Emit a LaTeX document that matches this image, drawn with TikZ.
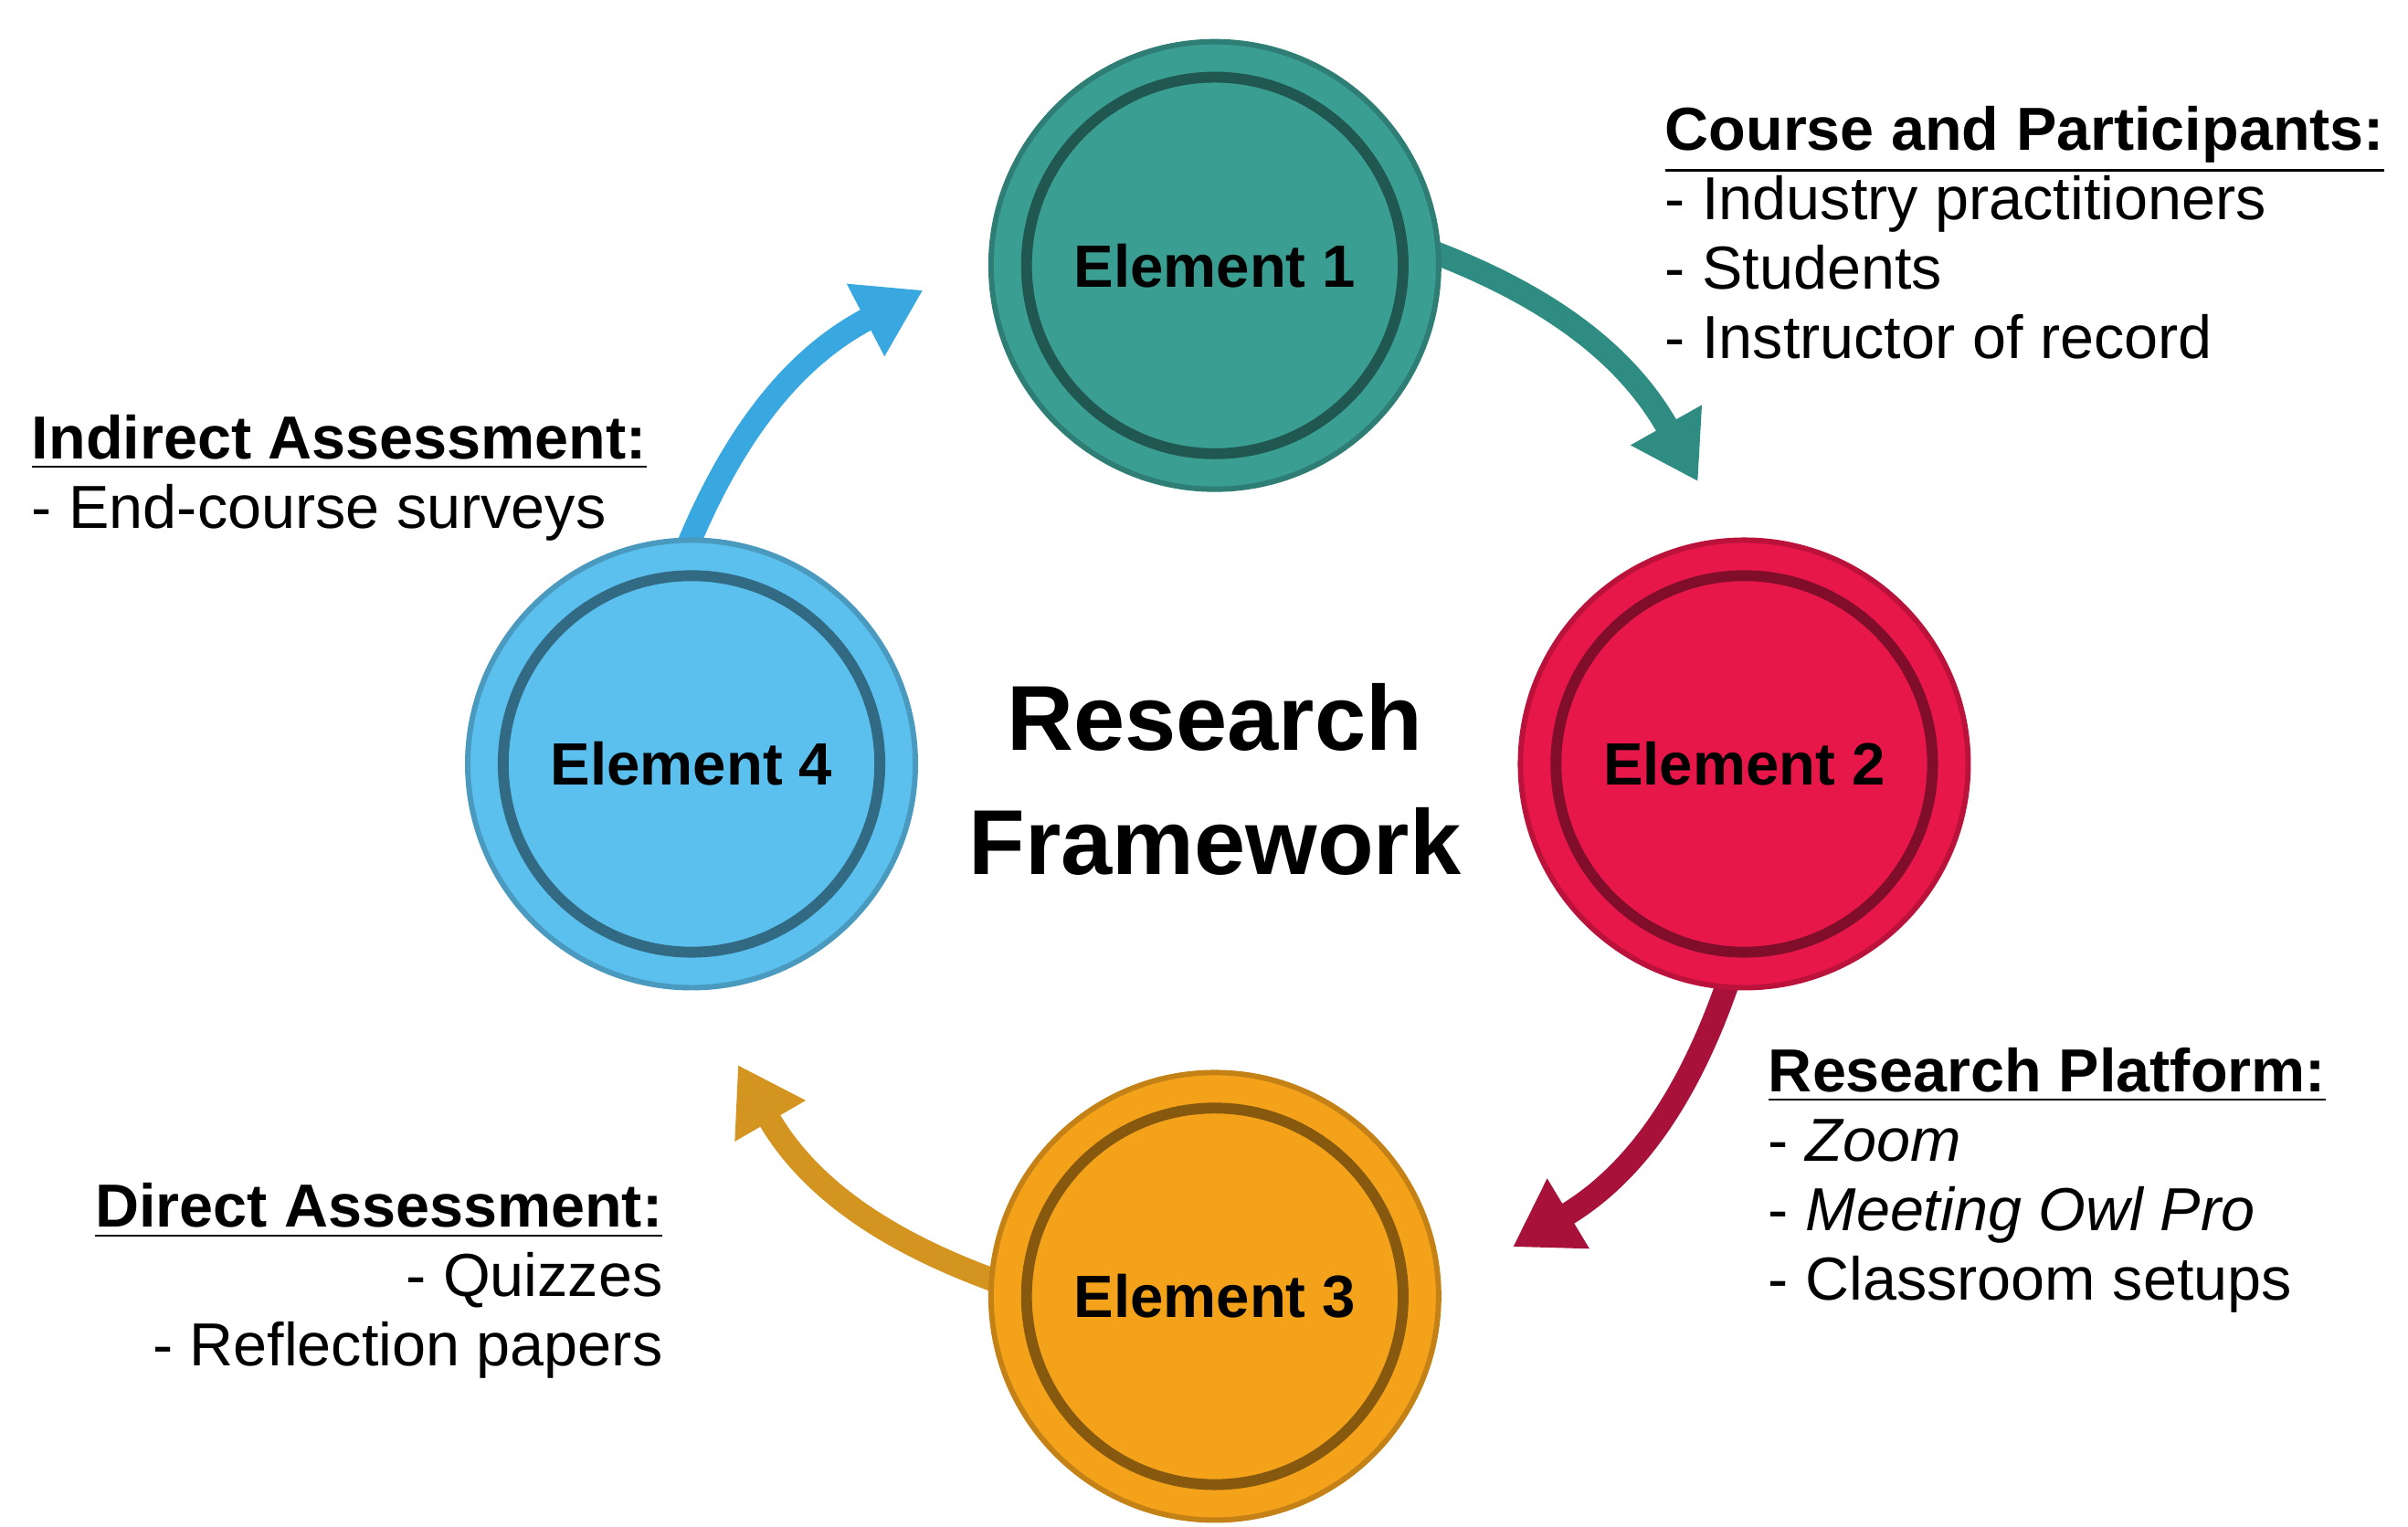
\documentclass[tikz,border=0pt]{standalone}
\usepackage{fontspec}
\setmainfont{Liberation Sans}
\usetikzlibrary{arrows.meta}
\definecolor{tealc}{HTML}{3A9E92}
\definecolor{redc}{HTML}{E8174A}
\definecolor{orangec}{HTML}{F5A21B}
\definecolor{bluec}{HTML}{5BC0EE}
\definecolor{teala}{HTML}{2E8C83}
\definecolor{reda}{HTML}{A8123A}
\definecolor{orangea}{HTML}{D39420}
\definecolor{bluea}{HTML}{3AA8E0}
\tikzset{
 elem/.style={circle,minimum size=2.9cm,inner sep=0pt,font=\fontsize{11}{13}\selectfont\bfseries},
 ring/.style={line width=2pt},
 flow/.style={line width=0.15cm,-{Triangle[length=0.42cm,width=0.5cm]}},
 info/.style={anchor=north west,align=left,font=\fontsize{11.2}{12.8}\selectfont,inner sep=0pt},
}
\begin{document}
\begin{tikzpicture}
\useasboundingbox (0,0) rectangle (15.6,-9.89);
% arrows
\coordinate (a1s) at (9.25,-1.62); \coordinate (a1e) at (11.0,-3.12);
\coordinate (a2s) at (11.2,-6.35); \coordinate (a2e) at (9.8,-8.08);
\coordinate (a3s) at (6.45,-8.3); \coordinate (a3e) at (4.78,-6.9);
\coordinate (a4s) at (4.45,-3.55); \coordinate (a4e) at (5.98,-1.88);
\draw[flow,teala] (a1s) to[bend left=20] (a1e);
\draw[flow,reda] (a2s) to[bend left=20] (a2e);
\draw[flow,orangea] (a3s) to[bend left=20] (a3e);
\draw[flow,bluea] (a4s) to[bend left=20] (a4e);
% circles
\foreach \n/\x/\y/\c/\t in {e1/7.87/-1.72/tealc/Element 1, e2/11.30/-4.95/redc/Element 2, e3/7.87/-8.40/orangec/Element 3, e4/4.48/-4.95/bluec/Element 4}{
 \node[elem,fill=\c,draw=\c!80!black,line width=1pt] (\n) at (\x,\y) {\t};
 \draw[ring,\c!55!black] (\n.center) circle (1.22cm);
}
\node[font=\fontsize{17}{21}\selectfont\bfseries,align=center] (title) at (7.87,-5.05) {Research\\[2pt]Framework};
\node[info] (t1) at (10.78,-0.68) {\underline{\textbf{Course and Participants:}}\\- Industry practitioners\\- Students\\- Instructor of record};
\node[info] (t2) at (11.45,-6.78) {\underline{\textbf{Research Platform:}}\\- \textit{Zoom}\\- \textit{Meeting Owl Pro}\\- Classroom setups};
\node[info,anchor=north east,align=right] (t3) at (4.30,-7.66) {\underline{\textbf{Direct Assessment:}}\\- Quizzes\\- Reflection papers};
\node[info] (t4) at (0.2,-2.68) {\underline{\textbf{Indirect Assessment:}}\\- End-course surveys};
\end{tikzpicture}
\end{document}
